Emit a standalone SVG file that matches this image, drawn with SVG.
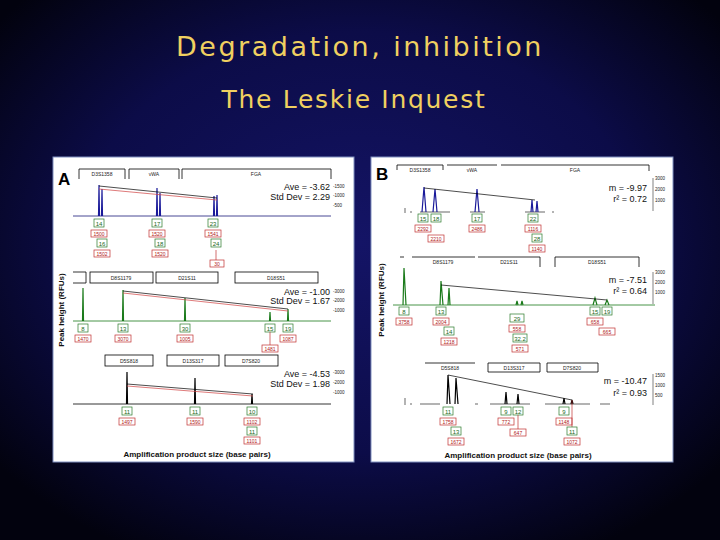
<svg xmlns="http://www.w3.org/2000/svg" width="720" height="540" viewBox="0 0 720 540">
<defs>
<radialGradient id="bg" cx="50%" cy="45%" r="65%">
<stop offset="0" stop-color="#141466"/><stop offset="0.6" stop-color="#0c0c48"/><stop offset="1" stop-color="#02020e"/>
</radialGradient>
<style>
.t{font-family:"DejaVu Sans",Verdana,sans-serif;fill:#f0d060;text-anchor:middle}
.lb{fill:#fff;stroke:#000;stroke-width:0.8}
.lt{font-family:"Liberation Sans",Arial,sans-serif;font-size:5px;fill:#222;text-anchor:middle}
.st{font-family:"Liberation Sans",Arial,sans-serif;font-size:9px;fill:#111;text-anchor:end}
.sc{font-family:"Liberation Sans",Arial,sans-serif;font-size:4.5px;fill:#222}
.g{fill:#fff;stroke:#2a7a2a;stroke-width:0.7}
.gt{font-family:"Liberation Sans",Arial,sans-serif;font-size:6px;fill:#1a6a1a;text-anchor:middle}
.r{fill:#fff;stroke:#c03030;stroke-width:0.7}
.rt{font-family:"Liberation Sans",Arial,sans-serif;font-size:5px;fill:#b02020;text-anchor:middle}
.ax{font-family:"Liberation Sans",Arial,sans-serif;font-size:8px;font-weight:bold;fill:#111;text-anchor:middle}
.pk{fill:none;stroke-width:1.2}
</style>
</defs>
<rect width="720" height="540" fill="url(#bg)"/>
<text x="360" y="56" class="t" font-size="27" letter-spacing="2.5">Degradation, inhibition</text>
<text x="354" y="108" class="t" font-size="25" letter-spacing="1.7">The Leskie Inquest</text>

<g id="panelA">
<rect x="53" y="157" width="301" height="305" fill="#fff" stroke="#8090c0" stroke-width="1"/>
<text x="58" y="185" font-family="Liberation Sans,Arial,sans-serif" font-size="17" font-weight="bold" fill="#000">A</text>
<g fill="none" stroke="#000" stroke-width="0.8">
<path d="M79 179V169H125V179M129 179V169H179V179M182 179V169H331V179"/>
</g>
<text x="102" y="176" class="lt">D3S1358</text><text x="154" y="176" class="lt">vWA</text><text x="256" y="176" class="lt">FGA</text>
<line x1="73" y1="216" x2="331" y2="216" stroke="#1a1a7a" stroke-width="0.8"/>
<path class="pk" stroke="#1a1a9a" d="M98.5 216L99 185L99.5 216M101.5 216L102 189L102.5 216M156.5 216L157 188L157.5 216M159.5 216L160 193L160.5 216M213.5 216L214 196L214.5 216M216.5 216L217 195L217.5 216"/>
<line x1="99" y1="186" x2="217" y2="198" stroke="#000" stroke-width="0.7"/><line x1="99" y1="189" x2="217" y2="200" stroke="#d04040" stroke-width="0.7"/>
<text x="330" y="190" class="st">Ave = -3.62</text><text x="330" y="200" class="st">Std Dev = 2.29</text>
<text x="333" y="188" class="sc">-1500</text><text x="333" y="197" class="sc">-1000</text><text x="333" y="207" class="sc">-500</text>
<rect x="94" y="219" width="10" height="8" class="g"/><text x="99" y="225.5" class="gt">14</text>
<rect x="152" y="219" width="10" height="8" class="g"/><text x="157" y="225.5" class="gt">17</text>
<rect x="208" y="219" width="10" height="8" class="g"/><text x="213" y="225.5" class="gt">23</text>
<rect x="91" y="230" width="16" height="7" class="r"/><text x="99" y="235.5" class="rt">1500</text>
<rect x="149" y="230" width="16" height="7" class="r"/><text x="157" y="235.5" class="rt">1520</text>
<rect x="205" y="230" width="16" height="7" class="r"/><text x="213" y="235.5" class="rt">1541</text>
<rect x="97" y="239" width="10" height="8" class="g"/><text x="102" y="245.5" class="gt">16</text>
<rect x="155" y="239" width="10" height="8" class="g"/><text x="160" y="245.5" class="gt">18</text>
<rect x="211" y="239" width="10" height="8" class="g"/><text x="216" y="245.5" class="gt">24</text>
<rect x="94" y="250" width="16" height="7" class="r"/><text x="102" y="255.5" class="rt">1502</text>
<rect x="152" y="250" width="16" height="7" class="r"/><text x="160" y="255.5" class="rt">1520</text>
<line x1="216" y1="250" x2="216" y2="260" stroke="#c03030" stroke-width="0.7"/>
<rect x="210" y="260" width="14" height="7" class="r"/><text x="217" y="265.5" class="rt">30</text>

<path d="M73 272H86V283H73" class="lb"/>
<rect x="90" y="272" width="63" height="11" class="lb"/><rect x="156" y="272" width="62" height="11" class="lb"/><rect x="235" y="272" width="83" height="11" class="lb"/>
<text x="121" y="279.5" class="lt">D8S1179</text><text x="187" y="279.5" class="lt">D21S11</text><text x="276" y="279.5" class="lt">D18S51</text>
<line x1="73" y1="321" x2="331" y2="321" stroke="#1a7a1a" stroke-width="0.8"/>
<path class="pk" stroke="#1a7a1a" d="M82.5 321L83 288L83.5 321M122.5 321L123 290L123.5 321M184.5 321L185 298L185.5 321M269.5 321L270 312L270.5 321M287.5 321L288 309L288.5 321"/>
<line x1="123" y1="291" x2="288" y2="309" stroke="#000" stroke-width="0.7"/><line x1="123" y1="293" x2="288" y2="311" stroke="#d04040" stroke-width="0.7"/>
<text x="330" y="295" class="st">Ave = -1.00</text><text x="330" y="304" class="st">Std Dev = 1.67</text>
<text x="333" y="293" class="sc">-3000</text><text x="333" y="302" class="sc">-2000</text><text x="333" y="312" class="sc">-1000</text>
<rect x="78" y="324" width="10" height="8" class="g"/><text x="83" y="330.5" class="gt">8</text>
<rect x="118" y="324" width="10" height="8" class="g"/><text x="123" y="330.5" class="gt">13</text>
<rect x="180" y="324" width="10" height="8" class="g"/><text x="185" y="330.5" class="gt">30</text>
<rect x="265" y="324" width="10" height="8" class="g"/><text x="270" y="330.5" class="gt">15</text>
<rect x="283" y="324" width="10" height="8" class="g"/><text x="288" y="330.5" class="gt">19</text>
<rect x="75" y="335" width="16" height="7" class="r"/><text x="83" y="340.5" class="rt">1470</text>
<rect x="115" y="335" width="16" height="7" class="r"/><text x="123" y="340.5" class="rt">3070</text>
<rect x="177" y="335" width="16" height="7" class="r"/><text x="185" y="340.5" class="rt">1005</text>
<rect x="280" y="335" width="16" height="7" class="r"/><text x="288" y="340.5" class="rt">1087</text>
<line x1="270" y1="332" x2="270" y2="345" stroke="#c03030" stroke-width="0.7"/>
<rect x="262" y="345" width="16" height="7" class="r"/><text x="270" y="350.5" class="rt">1481</text>

<rect x="105" y="355" width="48" height="11" class="lb"/><rect x="167" y="355" width="52" height="11" class="lb"/><rect x="225" y="355" width="53" height="11" class="lb"/>
<text x="129" y="362.5" class="lt">D5S818</text><text x="193" y="362.5" class="lt">D13S317</text><text x="251" y="362.5" class="lt">D7S820</text>
<line x1="73" y1="404" x2="331" y2="404" stroke="#000" stroke-width="0.8"/>
<path class="pk" stroke="#000" d="M126.5 404L127 372L127.5 404M194.5 404L195 378L195.5 404M251.5 404L252 394L252.5 404"/>
<line x1="127" y1="384" x2="253" y2="394" stroke="#000" stroke-width="0.7"/><line x1="127" y1="386" x2="253" y2="396" stroke="#d04040" stroke-width="0.7"/>
<text x="330" y="377" class="st">Ave = -4.53</text><text x="330" y="387" class="st">Std Dev = 1.98</text>
<text x="333" y="374" class="sc">-3000</text><text x="333" y="384" class="sc">-2000</text><text x="333" y="394" class="sc">-1000</text>
<rect x="122" y="407" width="10" height="8" class="g"/><text x="127" y="413.5" class="gt">11</text>
<rect x="190" y="407" width="10" height="8" class="g"/><text x="195" y="413.5" class="gt">11</text>
<rect x="247" y="407" width="10" height="8" class="g"/><text x="252" y="413.5" class="gt">10</text>
<rect x="119" y="418" width="16" height="7" class="r"/><text x="127" y="423.5" class="rt">1497</text>
<rect x="187" y="418" width="16" height="7" class="r"/><text x="195" y="423.5" class="rt">1590</text>
<rect x="244" y="418" width="16" height="7" class="r"/><text x="252" y="423.5" class="rt">1102</text>
<rect x="247" y="427" width="10" height="8" class="g"/><text x="252" y="433.5" class="gt">11</text>
<rect x="244" y="437" width="16" height="7" class="r"/><text x="252" y="442.5" class="rt">1101</text>
<text x="197" y="457" class="ax">Amplification product size (base pairs)</text>
<text transform="translate(64 310) rotate(-90)" class="ax">Peak height (RFUs)</text>
</g>

<g id="panelB">
<rect x="371" y="157" width="302" height="305" fill="#fff" stroke="#8090c0" stroke-width="1"/>
<text x="376" y="180" font-family="Liberation Sans,Arial,sans-serif" font-size="17" font-weight="bold" fill="#000">B</text>
<g fill="none" stroke="#000" stroke-width="0.8">
<path d="M397 170V165H443V170M447 165H497M501 165H649V171"/>
</g>
<text x="420" y="172" class="lt">D3S1358</text><text x="472" y="172" class="lt">vWA</text><text x="575" y="172" class="lt">FGA</text>
<path d="M405 208V213M410 212H412M420 212H450M470 212H485M525 212H545M552 212H554" stroke="#000" stroke-width="0.6"/>
<path class="pk" stroke="#1a1a9a" d="M422 212L424 187L426 212M433 212L435 189L437 212M475 212L477 189L479 212M531 212L532 200L533 212M536 212L537 201L538 212"/>
<line x1="424" y1="188" x2="535" y2="200" stroke="#000" stroke-width="0.7"/>
<text x="647" y="191" class="st">m = -9.97</text><text x="647" y="202" class="st">r² = 0.72</text>
<path d="M653 178V211" stroke="#000" stroke-width="0.5"/>
<text x="655" y="180" class="sc">3000</text><text x="655" y="191" class="sc">2000</text><text x="655" y="202" class="sc">1000</text>
<rect x="418" y="214" width="10" height="8" class="g"/><text x="423" y="220.5" class="gt">15</text>
<rect x="431" y="214" width="10" height="8" class="g"/><text x="436" y="220.5" class="gt">18</text>
<rect x="472" y="214" width="10" height="8" class="g"/><text x="477" y="220.5" class="gt">17</text>
<rect x="528" y="214" width="10" height="8" class="g"/><text x="533" y="220.5" class="gt">22</text>
<rect x="415" y="225" width="16" height="7" class="r"/><text x="423" y="230.5" class="rt">2292</text>
<rect x="469" y="225" width="16" height="7" class="r"/><text x="477" y="230.5" class="rt">2486</text>
<rect x="525" y="225" width="16" height="7" class="r"/><text x="533" y="230.5" class="rt">1116</text>
<rect x="428" y="235" width="16" height="7" class="r"/><text x="436" y="240.5" class="rt">2210</text>
<rect x="532" y="234" width="10" height="8" class="g"/><text x="537" y="240.5" class="gt">28</text>
<rect x="529" y="245" width="16" height="7" class="r"/><text x="537" y="250.5" class="rt">1140</text>

<path d="M400 257H404M412 257H475M478 257H540V267M555 267V257H639V267" fill="none" stroke="#000" stroke-width="0.8"/>
<text x="443" y="264" class="lt">D8S1179</text><text x="509" y="264" class="lt">D21S11</text><text x="597" y="264" class="lt">D18S51</text>
<line x1="393" y1="305" x2="655" y2="305" stroke="#1a7a1a" stroke-width="0.8"/>
<path class="pk" stroke="#1a7a1a" d="M403 305L404 268L406 305M440 305L441 281L443 305M448 305L449 288L450 305M516 305L517 301L518 305M521 305L522 301L523 305M593 305L595 298L597 305M605 305L607 300L609 305"/>
<line x1="441" y1="285" x2="607" y2="300" stroke="#000" stroke-width="0.7"/>
<text x="647" y="283" class="st">m = -7.51</text><text x="647" y="294" class="st">r² = 0.64</text>
<path d="M653 272V304" stroke="#000" stroke-width="0.5"/>
<text x="655" y="274" class="sc">3000</text><text x="655" y="284" class="sc">2000</text><text x="655" y="294" class="sc">1000</text>
<rect x="399" y="307" width="10" height="8" class="g"/><text x="404" y="313.5" class="gt">8</text>
<rect x="436" y="307" width="10" height="8" class="g"/><text x="441" y="313.5" class="gt">13</text>
<rect x="590" y="307" width="10" height="8" class="g"/><text x="595" y="313.5" class="gt">15</text>
<rect x="602" y="307" width="10" height="8" class="g"/><text x="607" y="313.5" class="gt">19</text>
<rect x="396" y="318" width="16" height="7" class="r"/><text x="404" y="323.5" class="rt">3758</text>
<rect x="433" y="318" width="16" height="7" class="r"/><text x="441" y="323.5" class="rt">2004</text>
<rect x="587" y="318" width="16" height="7" class="r"/><text x="595" y="323.5" class="rt">658</text>
<rect x="599" y="328" width="16" height="7" class="r"/><text x="607" y="333.5" class="rt">665</text>
<rect x="444" y="327" width="10" height="8" class="g"/><text x="449" y="333.5" class="gt">14</text>
<rect x="441" y="338" width="16" height="7" class="r"/><text x="449" y="343.5" class="rt">1218</text>
<rect x="510" y="314" width="14" height="8" class="g"/><text x="517" y="320.5" class="gt">29</text>
<rect x="509" y="325" width="16" height="7" class="r"/><text x="517" y="330.5" class="rt">558</text>
<rect x="513" y="334" width="14" height="8" class="g"/><text x="520" y="340.5" class="gt">32.2</text>
<rect x="512" y="345" width="16" height="7" class="r"/><text x="520" y="350.5" class="rt">571</text>

<path d="M425 363H475M488 363H540V372H488ZM547 363H598V372H547Z" fill="#fff" stroke="#000" stroke-width="0.8"/>
<text x="450" y="369.5" class="lt">D5S818</text><text x="514" y="369.5" class="lt">D13S317</text><text x="572" y="369.5" class="lt">D7S820</text>
<path d="M405 398V405M410 404H412M420 404H440M475 404H478M490 404H530M545 404H590M600 404H610" stroke="#000" stroke-width="0.6"/>
<path class="pk" stroke="#000" d="M447 404L448 375L450 404M455 404L456 378L458 404M505 404L506 392L507 404M517 404L518 394L519 404M563 404L564 398L565 404M571 404L572 400L573 404"/>
<line x1="448" y1="375" x2="572" y2="400" stroke="#000" stroke-width="0.7"/>
<text x="647" y="384" class="st">m = -10.47</text><text x="647" y="396" class="st">r² = 0.93</text>
<path d="M653 374V405" stroke="#000" stroke-width="0.5"/>
<text x="655" y="377" class="sc">1500</text><text x="655" y="387" class="sc">1000</text><text x="655" y="397" class="sc">500</text>
<rect x="443" y="407" width="10" height="8" class="g"/><text x="448" y="413.5" class="gt">11</text>
<rect x="501" y="407" width="10" height="8" class="g"/><text x="506" y="413.5" class="gt">9</text>
<rect x="513" y="407" width="10" height="8" class="g"/><text x="518" y="413.5" class="gt">12</text>
<rect x="559" y="407" width="10" height="8" class="g"/><text x="564" y="413.5" class="gt">9</text>
<rect x="440" y="418" width="16" height="7" class="r"/><text x="448" y="423.5" class="rt">1758</text>
<rect x="498" y="418" width="16" height="7" class="r"/><text x="506" y="423.5" class="rt">772</text>
<rect x="556" y="418" width="16" height="7" class="r"/><text x="564" y="423.5" class="rt">1148</text>
<rect x="451" y="427" width="10" height="8" class="g"/><text x="456" y="433.5" class="gt">13</text>
<rect x="448" y="438" width="16" height="7" class="r"/><text x="456" y="443.5" class="rt">1672</text>
<line x1="518" y1="415" x2="518" y2="429" stroke="#c03030" stroke-width="0.7"/>
<rect x="510" y="429" width="16" height="7" class="r"/><text x="518" y="434.5" class="rt">647</text>
<line x1="572" y1="400" x2="572" y2="427" stroke="#c03030" stroke-width="0.7"/>
<rect x="567" y="427" width="10" height="8" class="g"/><text x="572" y="433.5" class="gt">11</text>
<rect x="564" y="438" width="16" height="7" class="r"/><text x="572" y="443.5" class="rt">1072</text>
<text x="518" y="458" class="ax">Amplification product size (base pairs)</text>
<text transform="translate(384 300) rotate(-90)" class="ax">Peak height (RFUs)</text>
</g>
</svg>
